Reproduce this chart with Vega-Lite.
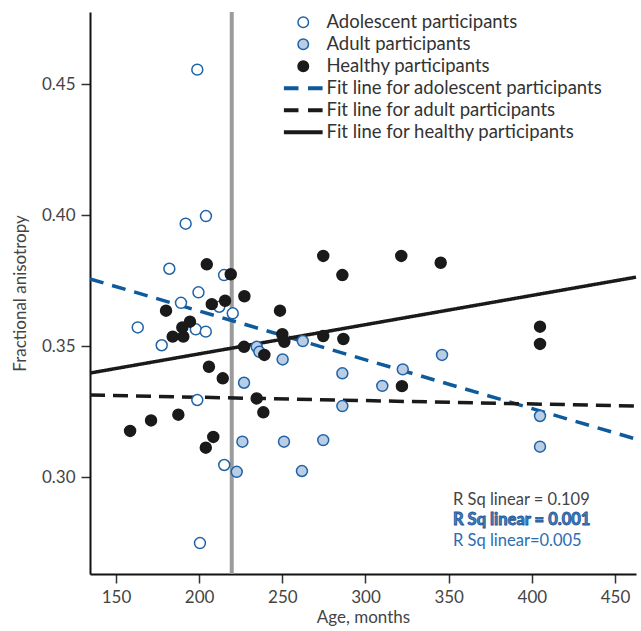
{
  "$schema": "https://vega.github.io/schema/vega-lite/v6.json",
  "autosize": {"type": "none"},
  "width": 546,
  "height": 562,
  "padding": {"left": 90, "top": 12, "right": 5, "bottom": 57},
  "background": "white",
  "config": {
    "view": {"stroke": null},
    "font": "Lato",
    "axis": {
      "grid": false,
      "domainColor": "#111",
      "domainWidth": 2,
      "tickColor": "#333",
      "tickWidth": 1.5,
      "tickSize": 9,
      "labelFont": "Lato",
      "labelFontSize": 17,
      "labelColor": "#444",
      "titleFont": "Lato",
      "titleFontSize": 17,
      "titleFontWeight": "normal",
      "titleColor": "#444"
    }
  },
  "datasets": {
    "points": [
      {"series": "Adolescent participants", "age": 198.9, "fa": 0.4555},
      {"series": "Adolescent participants", "age": 204.1, "fa": 0.3996},
      {"series": "Adolescent participants", "age": 191.9, "fa": 0.3967},
      {"series": "Adolescent participants", "age": 182.1, "fa": 0.3795},
      {"series": "Adolescent participants", "age": 215.0, "fa": 0.3771},
      {"series": "Adolescent participants", "age": 199.6, "fa": 0.3705},
      {"series": "Adolescent participants", "age": 189.1, "fa": 0.3665},
      {"series": "Adolescent participants", "age": 212.1, "fa": 0.3650},
      {"series": "Adolescent participants", "age": 220.2, "fa": 0.3625},
      {"series": "Adolescent participants", "age": 163.1, "fa": 0.3571},
      {"series": "Adolescent participants", "age": 198.0, "fa": 0.3564},
      {"series": "Adolescent participants", "age": 204.0, "fa": 0.3555},
      {"series": "Adolescent participants", "age": 177.5, "fa": 0.3503},
      {"series": "Adolescent participants", "age": 198.9, "fa": 0.3294},
      {"series": "Adolescent participants", "age": 215.1, "fa": 0.3046},
      {"series": "Adolescent participants", "age": 200.5, "fa": 0.2748},
      {"series": "Adult participants", "age": 234.6, "fa": 0.3497},
      {"series": "Adult participants", "age": 236.2, "fa": 0.3478},
      {"series": "Adult participants", "age": 250.2, "fa": 0.3449},
      {"series": "Adult participants", "age": 227.0, "fa": 0.3360},
      {"series": "Adult participants", "age": 262.3, "fa": 0.3519},
      {"series": "Adult participants", "age": 286.1, "fa": 0.3396},
      {"series": "Adult participants", "age": 310.1, "fa": 0.3348},
      {"series": "Adult participants", "age": 322.4, "fa": 0.3411},
      {"series": "Adult participants", "age": 346.0, "fa": 0.3466},
      {"series": "Adult participants", "age": 286.1, "fa": 0.3271},
      {"series": "Adult participants", "age": 226.0, "fa": 0.3135},
      {"series": "Adult participants", "age": 251.0, "fa": 0.3135},
      {"series": "Adult participants", "age": 274.6, "fa": 0.3141},
      {"series": "Adult participants", "age": 222.6, "fa": 0.3020},
      {"series": "Adult participants", "age": 261.8, "fa": 0.3023},
      {"series": "Adult participants", "age": 404.9, "fa": 0.3233},
      {"series": "Adult participants", "age": 404.9, "fa": 0.3116},
      {"series": "Healthy participants", "age": 204.6, "fa": 0.3812},
      {"series": "Healthy participants", "age": 219.0, "fa": 0.3774},
      {"series": "Healthy participants", "age": 207.6, "fa": 0.3660},
      {"series": "Healthy participants", "age": 215.6, "fa": 0.3673},
      {"series": "Healthy participants", "age": 227.2, "fa": 0.3690},
      {"series": "Healthy participants", "age": 180.1, "fa": 0.3635},
      {"series": "Healthy participants", "age": 248.6, "fa": 0.3635},
      {"series": "Healthy participants", "age": 194.5, "fa": 0.3593},
      {"series": "Healthy participants", "age": 189.9, "fa": 0.3571},
      {"series": "Healthy participants", "age": 184.1, "fa": 0.3536},
      {"series": "Healthy participants", "age": 190.5, "fa": 0.3536},
      {"series": "Healthy participants", "age": 227.0, "fa": 0.3497},
      {"series": "Healthy participants", "age": 250.0, "fa": 0.3545},
      {"series": "Healthy participants", "age": 251.2, "fa": 0.3516},
      {"series": "Healthy participants", "age": 239.2, "fa": 0.3466},
      {"series": "Healthy participants", "age": 205.9, "fa": 0.3421},
      {"series": "Healthy participants", "age": 214.2, "fa": 0.3377},
      {"series": "Healthy participants", "age": 274.6, "fa": 0.3844},
      {"series": "Healthy participants", "age": 286.1, "fa": 0.3771},
      {"series": "Healthy participants", "age": 321.5, "fa": 0.3844},
      {"series": "Healthy participants", "age": 345.2, "fa": 0.3818},
      {"series": "Healthy participants", "age": 274.6, "fa": 0.3538},
      {"series": "Healthy participants", "age": 286.7, "fa": 0.3527},
      {"series": "Healthy participants", "age": 321.9, "fa": 0.3347},
      {"series": "Healthy participants", "age": 234.6, "fa": 0.3300},
      {"series": "Healthy participants", "age": 238.6, "fa": 0.3247},
      {"series": "Healthy participants", "age": 158.5, "fa": 0.3176},
      {"series": "Healthy participants", "age": 171.1, "fa": 0.3216},
      {"series": "Healthy participants", "age": 187.5, "fa": 0.3238},
      {"series": "Healthy participants", "age": 208.5, "fa": 0.3153},
      {"series": "Healthy participants", "age": 204.0, "fa": 0.3112},
      {"series": "Healthy participants", "age": 404.9, "fa": 0.3574},
      {"series": "Healthy participants", "age": 404.9, "fa": 0.3508}
    ],
    "fits": [
      {"series": "Fit line for adolescent participants", "age": 134.4, "fa": 0.3756},
      {"series": "Fit line for adolescent participants", "age": 462.6, "fa": 0.3145},
      {"series": "Fit line for adult participants", "age": 134.4, "fa": 0.3313},
      {"series": "Fit line for adult participants", "age": 462.6, "fa": 0.3271},
      {"series": "Fit line for healthy participants", "age": 134.4, "fa": 0.3397},
      {"series": "Fit line for healthy participants", "age": 462.6, "fa": 0.3763}
    ],
    "cutoff": [{"age": 219.6}],
    "rsq": [
      {"label": "R Sq linear = 0.109", "kind": "healthy", "age": 352.6, "fa": 0.2913},
      {"label": "R Sq linear = 0.001", "kind": "adult", "age": 352.6, "fa": 0.2836},
      {"label": "R Sq linear=0.005", "kind": "adolescent", "age": 352.6, "fa": 0.2756}
    ]
  },
  "layer": [
    {
      "data": {"name": "cutoff"},
      "mark": {"type": "rule", "color": "#9b9b9b", "strokeWidth": 4},
      "encoding": {
        "x": {"field": "age", "type": "quantitative"}
      }
    },
    {
      "data": {"name": "fits"},
      "mark": {"type": "line", "strokeWidth": 3.5, "strokeCap": "butt"},
      "encoding": {
        "x": {"field": "age", "type": "quantitative"},
        "y": {"field": "fa", "type": "quantitative"},
        "stroke": {"field": "series", "type": "nominal"},
        "strokeDash": {
          "field": "series", "type": "nominal", "legend": null,
          "scale": {
            "domain": ["Fit line for adolescent participants", "Fit line for adult participants", "Fit line for healthy participants"],
            "range": [[14, 9], [15, 8], [1, 0]]
          }
        }
      }
    },
    {
      "data": {"name": "points"},
      "mark": {"type": "point", "filled": true, "opacity": 1, "strokeWidth": 1.5, "size": 120},
      "encoding": {
        "x": {
          "field": "age", "type": "quantitative",
          "scale": {"domain": [134.4, 462.6], "nice": false, "zero": false},
          "axis": {"values": [150, 200, 250, 300, 350, 400, 450], "title": "Age, months", "labelDx": -4, "labelPadding": 6, "titlePadding": 4}
        },
        "y": {
          "field": "fa", "type": "quantitative",
          "scale": {"domain": [0.263, 0.4775], "nice": false, "zero": false},
          "axis": {"values": [0.30, 0.35, 0.40, 0.45], "format": ".2f", "title": "Fractional anisotropy", "labelPadding": 6, "titlePadding": 12}
        },
        "fill": {
          "field": "series", "type": "nominal",
          "scale": {
            "domain": ["Adolescent participants", "Adult participants", "Healthy participants", "Fit line for adolescent participants", "Fit line for adult participants", "Fit line for healthy participants"],
            "range": ["#ffffff", "#b9cde5", "#1a1a1a", "#0d5a9c", "#1a1a1a", "#1a1a1a"]
          },
          "legend": {
            "title": null,
            "orient": "none",
            "legendX": 204,
            "legendY": 1,
            "labelFont": "Lato",
            "labelFontSize": 18.5,
            "labelColor": "#333",
            "labelLimit": 0,
            "labelOffset": 14,
            "symbolSize": 110,
            "symbolStrokeWidth": 1.5,
            "symbolOpacity": 1,
            "rowPadding": 3
          }
        },
        "stroke": {
          "field": "series", "type": "nominal",
          "scale": {
            "domain": ["Adolescent participants", "Adult participants", "Healthy participants", "Fit line for adolescent participants", "Fit line for adult participants", "Fit line for healthy participants"],
            "range": ["#1f63a6", "#1f63a6", "#1a1a1a", "#0d5a9c", "#1a1a1a", "#1a1a1a"]
          }
        },
        "shape": {
          "field": "series", "type": "nominal",
          "scale": {
            "domain": ["Adolescent participants", "Adult participants", "Healthy participants", "Fit line for adolescent participants", "Fit line for adult participants", "Fit line for healthy participants"],
            "range": ["circle", "circle", "circle", "M-3.55,-0.25H-1.05V0.25H-3.55Z M1.05,-0.25H3.55V0.25H1.05Z", "M-3.55,-0.25H-1.05V0.25H-3.55Z M1.05,-0.25H3.55V0.25H1.05Z", "M-3.55,-0.25H3.55V0.25H-3.55Z"]
          }
        }
      }
    },
    {
      "data": {"name": "rsq"},
      "transform": [{"filter": "datum.kind === 'healthy'"}],
      "mark": {"type": "text", "align": "left", "baseline": "middle", "font": "Lato", "fontSize": 16.5, "fill": "#444"},
      "encoding": {
        "x": {"field": "age", "type": "quantitative"},
        "y": {"field": "fa", "type": "quantitative"},
        "text": {"field": "label"}
      }
    },
    {
      "data": {"name": "rsq"},
      "transform": [{"filter": "datum.kind === 'adult'"}],
      "mark": {"type": "text", "align": "left", "baseline": "middle", "font": "Lato", "fontSize": 16.5, "fontWeight": "bold", "fill": "#4b86c6", "stroke": "#1b5796", "strokeWidth": 0.9},
      "encoding": {
        "x": {"field": "age", "type": "quantitative"},
        "y": {"field": "fa", "type": "quantitative"},
        "text": {"field": "label"}
      }
    },
    {
      "data": {"name": "rsq"},
      "transform": [{"filter": "datum.kind === 'adolescent'"}],
      "mark": {"type": "text", "align": "left", "baseline": "middle", "font": "Lato", "fontSize": 16.5, "fill": "#2a6db5"},
      "encoding": {
        "x": {"field": "age", "type": "quantitative"},
        "y": {"field": "fa", "type": "quantitative"},
        "text": {"field": "label"}
      }
    }
  ]
}
